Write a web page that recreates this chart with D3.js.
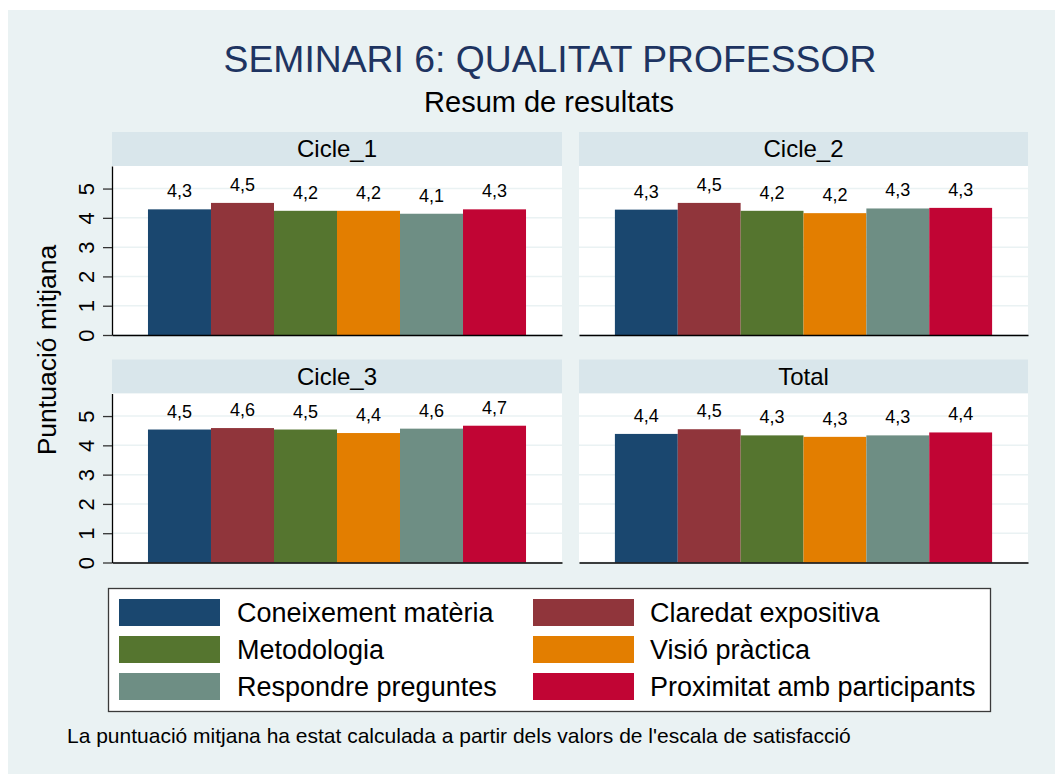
<!DOCTYPE html>
<html>
<head>
<meta charset="utf-8">
<script src="https://cdn.jsdelivr.net/npm/d3@7"></script>
<style>
	body { margin: 0; background: #fff; }
	svg text { font-family: "Liberation Sans", Arial, sans-serif; }
</style>
</head>
<body>
<div id="chart"></div>
<script>
// chart values
var panelNames = ["Cicle_1", "Cicle_2", "Cicle_3", "Total"];
var categories = ["Coneixement matèria", "Claredat expositiva", "Metodologia", "Visió pràctica", "Respondre preguntes", "Proximitat amb participants"];
var cicle1 = [4.29, 4.51, 4.24, 4.24, 4.14, 4.29];
var cicle2 = [4.28, 4.51, 4.24, 4.16, 4.32, 4.34];
var cicle3 = [4.54, 4.59, 4.54, 4.42, 4.57, 4.67];
var total = [4.39, 4.55, 4.34, 4.29, 4.34, 4.44];
var yTicks = [0, 1, 2, 3, 4, 5];
var colors = ["#1a476f", "#90353b", "#55752f", "#e37e00", "#6e8e84", "#c10534"];

var W = 1055, H = 774;
var svg = d3.select("#chart")
	.append("svg")
	.attr("width", W)
	.attr("height", H);

svg.append("rect")
	.attr("x", 8).attr("y", 10)
	.attr("width", W - 8).attr("height", H - 10)
	.style("fill", "#eaf2f3");

svg.append("text")
	.attr("x", 550).attr("y", 72)
	.attr("text-anchor", "middle")
	.style("font-size", "37.3px")
	.style("fill", "#1e3461")
	.text("SEMINARI 6: QUALITAT PROFESSOR");
svg.append("text")
	.attr("x", 549).attr("y", 112)
	.attr("text-anchor", "middle")
	.style("font-size", "29px")
	.style("fill", "#000")
	.text("Resum de resultats");

var panelData = [cicle1, cicle2, cicle3, total];
var cols = [[112, 562], [579, 1028]];
var rows = [132, 359.5];
var headH = 34, plotH = 169;
var fmt = d3.format(".1f");

panelData.forEach(function(vals, i) {
	var c = cols[i % 2], top = rows[Math.floor(i / 2)];
	var plotTop = top + headH, plotBottom = plotTop + plotH;
	var g = svg.append("g").attr("class", "panel");

	g.append("rect")
		.attr("x", c[0]).attr("y", top)
		.attr("width", c[1] - c[0]).attr("height", headH)
		.style("fill", "#d9e6eb");
	g.append("text")
		.attr("x", (c[0] + c[1]) / 2).attr("y", top + 25)
		.attr("text-anchor", "middle")
		.style("font-size", "24px")
		.text(panelNames[i]);
	g.append("rect")
		.attr("x", c[0]).attr("y", plotTop)
		.attr("width", c[1] - c[0]).attr("height", plotH)
		.style("fill", "#fff");

	var y = d3.scaleLinear().domain([0, 5.77]).range([plotBottom, plotTop]);
	var x = d3.scaleBand().domain(categories).range(c).paddingInner(0).paddingOuter(0.571);

	g.selectAll("line.grid")
		.data(yTicks)
		.enter().append("line")
		.attr("class", "grid")
		.attr("x1", c[0]).attr("x2", c[1])
		.attr("y1", function(d) { return y(d); })
		.attr("y2", function(d) { return y(d); })
		.style("stroke", "#eaf2f3")
		.style("stroke-width", 1.5);

	g.selectAll("rect.bar")
		.data(vals)
		.enter().append("rect")
		.attr("class", "bar")
		.attr("x", function(d, j) { return x(categories[j]); })
		.attr("y", function(d) { return y(d); })
		.attr("width", x.bandwidth())
		.attr("height", function(d) { return plotBottom - y(d); })
		.style("fill", function(d, j) { return colors[j]; });

	g.selectAll("text.lbl")
		.data(vals)
		.enter().append("text")
		.attr("class", "lbl")
		.attr("x", function(d, j) { return x(categories[j]) + x.bandwidth() / 2; })
		.attr("y", function(d) { return y(d) - 12; })
		.attr("text-anchor", "middle")
		.style("font-size", "18px")
		.text(function(d) { return fmt(d).replace(".", ","); });

	g.append("g")
		.attr("transform", "translate(0," + plotBottom + ")")
		.call(d3.axisBottom(x).tickValues([]).tickSizeOuter(0))
		.select(".domain").style("stroke", "#000").style("stroke-width", 1.3);

	if (i % 2 === 0) {
		var ax = g.append("g")
			.attr("transform", "translate(" + c[0] + ",0)")
			.call(d3.axisLeft(y).tickValues(yTicks).tickFormat(d3.format("d")).tickSize(9).tickSizeOuter(0));
		ax.select(".domain").style("stroke", "#000").style("stroke-width", 1.3);
		ax.selectAll(".tick line").style("stroke", "#333").style("stroke-width", 1.3);
		ax.selectAll(".tick text")
			.attr("transform", "rotate(-90)")
			.attr("x", 0).attr("y", -18).attr("dy", 0)
			.attr("text-anchor", "middle")
			.style("font-size", "22px")
			.style("font-family", "Liberation Sans, Arial, sans-serif")
			.style("fill", "#000");
	}
});

svg.append("text")
	.attr("transform", "translate(56,350) rotate(-90)")
	.attr("text-anchor", "middle")
	.style("font-size", "26.5px")
	.text("Puntuació mitjana");

// legend
var legend = svg.append("g").attr("class", "legend");
legend.append("rect")
	.attr("x", 108.5).attr("y", 588.5)
	.attr("width", 882).attr("height", 123)
	.style("fill", "#fff")
	.style("stroke", "#3a3a3a")
	.style("stroke-width", 1.3);
var legCols = [119, 533], legTextX = [237, 650];
categories.forEach(function(name, j) {
	var col = j % 2, row = Math.floor(j / 2);
	var ly = 599 + row * 37;
	legend.append("rect")
		.attr("x", legCols[col]).attr("y", ly)
		.attr("width", 101).attr("height", 27)
		.style("fill", colors[j]);
	legend.append("text")
		.attr("x", legTextX[col]).attr("y", ly + 23)
		.style("font-size", "27px")
		.text(name);
});

svg.append("text")
	.attr("x", 67).attr("y", 743)
	.style("font-size", "21px")
	.text("La puntuació mitjana ha estat calculada a partir dels valors de l'escala de satisfacció");
</script>
</body>
</html>
